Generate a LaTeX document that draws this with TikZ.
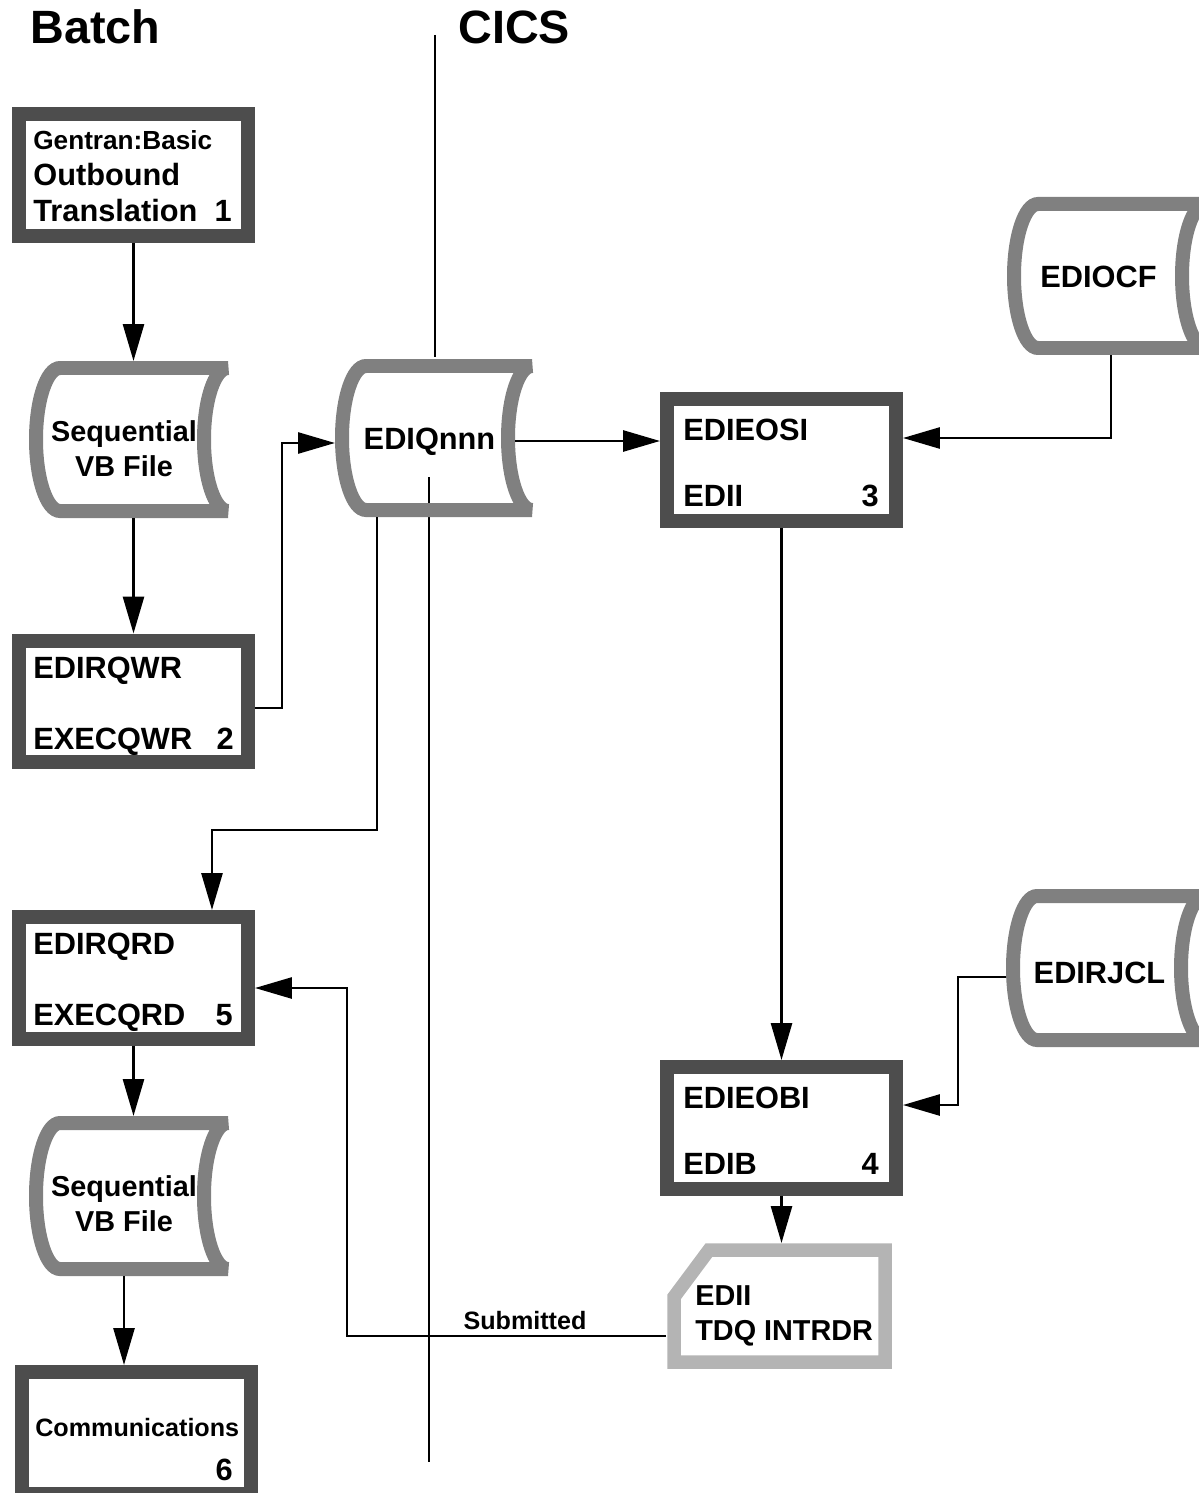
\documentclass[tikz,border=0pt]{standalone}
\usepackage{fontspec}
\setmainfont{Liberation Sans}
\usetikzlibrary{arrows.meta}
\definecolor{boxgray}{HTML}{4D4D4D}
\definecolor{cylgray}{HTML}{808080}
\definecolor{cardgray}{HTML}{B4B4B4}
\newcommand\fmain{\fontsize{17.5}{20}\selectfont\bfseries}
\newcommand\fgen{\fontsize{14.9}{17}\selectfont\bfseries}
\newcommand\fseq{\fontsize{16.4}{19}\selectfont\bfseries}
\newcommand\fsmall{\fontsize{14.3}{17}\selectfont\bfseries}
\newcommand\ftitle{\fontsize{26.6}{30}\selectfont\bfseries}
\newcommand\drawcyl[6]{%
  \pgfmathsetmacro\cyXL{#2}\pgfmathsetmacro\cyXR{#3}%
  \pgfmathsetmacro\cyYT{#4}\pgfmathsetmacro\cyYB{#5}\pgfmathsetmacro\cyD{#6}%
  \pgfmathsetmacro\cyYM{(#4+#5)/2}\pgfmathsetmacro\cyK{0.552*#6}\pgfmathsetmacro\cyH{0.276*(#5-#4)}%
  \pgfmathsetmacro\cyW{(#3-#2+14)*0.02}\pgfmathsetmacro\cyHH{(#5-#4+14)*0.02}%
  \pgfmathsetmacro\cyCX{(#2+#3)/2-#6}%
  \draw[cylline] (\cyXL,\cyYT) -- (\cyXR,\cyYT)
    .. controls (\cyXR-\cyK,\cyYT) and (\cyXR-\cyD,\cyYM-\cyH) .. (\cyXR-\cyD,\cyYM)
    .. controls (\cyXR-\cyD,\cyYM+\cyH) and (\cyXR-\cyK,\cyYB) .. (\cyXR,\cyYB)
    -- (\cyXL,\cyYB)
    .. controls (\cyXL-\cyK,\cyYB) and (\cyXL-\cyD,\cyYM+\cyH) .. (\cyXL-\cyD,\cyYM)
    .. controls (\cyXL-\cyD,\cyYM-\cyH) and (\cyXL-\cyK,\cyYT) .. (\cyXL,\cyYT) -- cycle;
  \node[hidden,minimum width=\cyW cm,minimum height=\cyHH cm] (#1) at (\cyCX,\cyYM) {};}
\begin{document}
\begin{tikzpicture}[x=0.02cm,y=-0.02cm,
  box/.style={draw=boxgray,line width=0.28cm,minimum width=4.58cm,minimum height=2.44cm,inner sep=0pt},
  cylline/.style={draw=cylgray,line width=0.28cm},
  cardline/.style={draw=cardgray,line width=0.27cm,line join=miter},
  hidden/.style={inner sep=0pt,outer sep=0pt},
  conn/.style={line width=0.055cm,-{Triangle[length=0.74cm,width=0.42cm]}},
  plain/.style={line width=0.055cm},
  txt/.style={inner sep=0pt,font=\fmain}]
\useasboundingbox (0,0) rectangle (1199,1493);
\clip (0,0) rectangle (1199,1493);

% titles
\node[inner sep=0pt,font=\ftitle,anchor=base west] (batch) at (30,44) {Batch};
\node[inner sep=0pt,font=\ftitle,anchor=base west] (cics) at (458,44) {CICS};

% divider
\coordinate (d1) at (435,35);
\coordinate (d2) at (435,357);
\coordinate (d3) at (429,477);
\coordinate (d4) at (429,1462);
\draw[plain] (d1) -- (d2);
\draw[plain] (d3) -- (d4);

% boxes
\node[box] (b1) at (133.5,175) {};
\node[box] (b2) at (133.5,701.5) {};
\node[box] (b5) at (133.5,978) {};
\node[box] (b6) at (136.5,1433) {};
\node[box] (b3) at (781.5,460) {};
\node[box] (b4) at (781.5,1128) {};

% cylinders
\drawcyl{s1}{60}{228}{368}{511}{24}
\drawcyl{s2}{60}{228}{1123}{1269}{24}
\drawcyl{q}{366}{532}{366}{510}{24}
\drawcyl{o}{1038}{1206}{204}{348}{24}
\drawcyl{j}{1037}{1205}{896}{1040}{24}

% card
\draw[cardline] (709,1250) -- (885,1250) -- (885,1362) -- (674,1362) -- (674,1297) -- cycle;
\node[hidden,minimum width=4.52cm,minimum height=2.52cm] (card) at (779,1306) {};

% texts
\node[inner sep=0pt,font=\fgen,anchor=base west] (t1a) at (33,150) {Gentran:Basic};
\node[txt,anchor=base west] (t1b) at (33,186) {Outbound};
\node[txt,anchor=base west] (t1c) at (33,222) {Translation};
\node[txt,anchor=base east] (t1n) at (232,222) {1};

\node[txt,anchor=base west] (t2a) at (33,678) {EDIRQWR};
\node[txt,anchor=base west] (t2b) at (33,749) {EXECQWR};
\node[txt,anchor=base east] (t2n) at (234,749) {2};

\node[txt,anchor=base west] (t5a) at (33,954) {EDIRQRD};
\node[txt,anchor=base west] (t5b) at (33,1025) {EXECQRD};
\node[txt,anchor=base east] (t5n) at (233,1025) {5};

\node[inner sep=0pt,font=\fsmall,anchor=base west] (t6a) at (35,1436) {Communications};
\node[txt,anchor=base east] (t6n) at (233,1480) {6};

\node[txt,anchor=base west] (t3a) at (683,440) {EDIEOSI};
\node[txt,anchor=base west] (t3b) at (683,506) {EDII};
\node[txt,anchor=base east] (t3n) at (879,506) {3};

\node[txt,anchor=base west] (t4a) at (683,1108) {EDIEOBI};
\node[txt,anchor=base west] (t4b) at (683,1174) {EDIB};
\node[txt,anchor=base east] (t4n) at (879,1174) {4};

\node[inner sep=0pt,font=\fseq,anchor=base] (ts1a) at (124,441) {Sequential};
\node[inner sep=0pt,font=\fseq,anchor=base] (ts1b) at (124,476) {VB File};
\node[inner sep=0pt,font=\fseq,anchor=base] (ts2a) at (124,1196) {Sequential};
\node[inner sep=0pt,font=\fseq,anchor=base] (ts2b) at (124,1231) {VB File};

\node[txt,anchor=base] (tq) at (429.5,449) {EDIQnnn};
\node[txt,anchor=base] (to) at (1098.5,288) {EDIOCF};
\node[txt,anchor=base] (tj) at (1099.5,983) {EDIRJCL};

\node[inner sep=0pt,font=\fseq,anchor=base west] (tca) at (695,1305) {EDII};
\node[inner sep=0pt,font=\fseq,anchor=base west] (tcb) at (695,1340) {TDQ INTRDR};

\node[inner sep=0pt,font=\fsmall,anchor=base] (sub) at (525,1329) {Submitted};

% connectors
\draw[conn] (b1.south) -- (b1.south |- s1.north);
\draw[conn] (b2.north |- s1.south) -- (b2.north);
\draw[conn] ([yshift=-0.13cm]b2.east) -- ++(27,0) |- ([yshift=-0.1cm]q.west);
\draw[conn] ([yshift=-0.06cm]q.east) coordinate (qe) -- (qe -| b3.west);
\draw[conn] ([xshift=0.26cm]o.south) |- ([yshift=0.44cm]b3.east);
\draw[conn] ([xshift=-0.96cm]q.south) -- ++(0,313) -| ([xshift=1.57cm]b5.north);
\draw[conn] (b3.south) -- (b4.north);
\draw[conn] ([yshift=-0.18cm]j.west) -- ++(-48,0) |- ([yshift=0.46cm]b4.east);
\draw[conn] (b4.south) -- (b4.south |- card.north);
\draw[conn] ([yshift=-0.6cm]card.west) -- ++(-319,0) |- ([yshift=-0.2cm]b5.east);
\draw[conn] (b5.south) -- (b5.south |- s2.north);
\draw[conn] ([xshift=0.08cm]s2.south) coordinate (s2b) -- (s2b |- b6.north);
\end{tikzpicture}
\end{document}
